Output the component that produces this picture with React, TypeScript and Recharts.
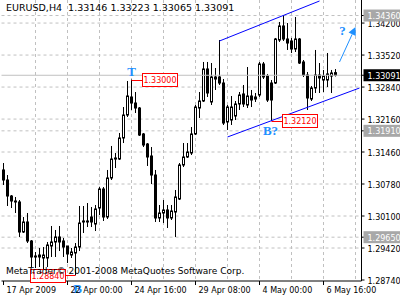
import React from "react"
import { ComposedChart, Bar, XAxis, YAxis, CartesianGrid, ReferenceLine, ReferenceDot } from "recharts"

// EURUSD H4 bars, 17 Apr 2009 08:00 onwards
const opens = [
  1.31078, 1.30865, 1.30525, 1.30419, 1.30398, 1.2976, 1.29973, 1.29569, 1.2925, 1.29271,
  1.29208, 1.29208, 1.29463, 1.29548, 1.29654, 1.29569, 1.29463, 1.29271, 1.29314, 1.29441,
  1.29994, 1.29973, 1.30079, 1.2993, 1.3027, 1.30674, 1.30079, 1.30908, 1.31333, 1.31311,
  1.31758, 1.32246, 1.32629, 1.32501, 1.32395, 1.31843, 1.3163, 1.31375, 1.30971, 1.30058,
  1.30164, 1.30228, 1.30058, 1.30185, 1.30461, 1.31184, 1.31354, 1.31439, 1.31843, 1.32395,
  1.32544, 1.33224, 1.32523, 1.33054, 1.33054, 1.32926, 1.32098, 1.3214, 1.32225, 1.3248,
  1.32693, 1.32459, 1.3265, 1.32586, 1.32671, 1.3333, 1.33075, 1.32926, 1.32926, 1.3384,
  1.34138, 1.33861, 1.33819, 1.33649, 1.33861, 1.33373, 1.33096, 1.32586, 1.3282, 1.33096,
  1.3299, 1.3299, 1.33075, 1.33146,
]
const highs = [
  1.31226, 1.30971, 1.30546, 1.30504, 1.3044, 1.30079, 1.30164, 1.2959, 1.29335, 1.2942,
  1.29441, 1.29548, 1.29888, 1.29803, 1.29888, 1.29633, 1.29463, 1.2942, 1.29526, 1.30313,
  1.30313, 1.30376, 1.30291, 1.30334, 1.30716, 1.30716, 1.31078, 1.31588, 1.31439, 1.31864,
  1.32416, 1.32969, 1.33, 1.32735, 1.32416, 1.31864, 1.31651, 1.31566, 1.31078, 1.30334,
  1.3044, 1.30334, 1.30334, 1.30653, 1.31226, 1.31651, 1.31651, 1.31991, 1.32459, 1.32735,
  1.33373, 1.33373, 1.33351, 1.33245, 1.3384, 1.33011, 1.32459, 1.3265, 1.32544, 1.32735,
  1.32884, 1.33266, 1.32778, 1.32714, 1.33373, 1.33373, 1.33118, 1.3299, 1.33883, 1.34223,
  1.3436, 1.34201, 1.33883, 1.34329, 1.33883, 1.33415, 1.3316, 1.32863, 1.33628, 1.33351,
  1.33203, 1.33564, 1.33203, 1.33223,
]
const lows = [
  1.30759, 1.30313, 1.3027, 1.30164, 1.29654, 1.29739, 1.29526, 1.29016, 1.28995, 1.29016,
  1.28953, 1.29016, 1.29229, 1.29229, 1.29356, 1.29229, 1.29101, 1.29208, 1.2884, 1.29356,
  1.29739, 1.29866, 1.29866, 1.29781, 1.30121, 1.29994, 1.30036, 1.30865, 1.3112, 1.3129,
  1.31651, 1.32204, 1.32353, 1.32289, 1.318, 1.31566, 1.31163, 1.3078, 1.29973, 1.29973,
  1.29951, 1.29845, 1.30015, 1.29654, 1.3044, 1.31141, 1.31333, 1.31396, 1.31821, 1.32183,
  1.32523, 1.32629, 1.32459, 1.32778, 1.32884, 1.32034, 1.31928, 1.32034, 1.3214, 1.32353,
  1.32416, 1.32395, 1.32416, 1.32523, 1.32629, 1.33011, 1.32523, 1.3212, 1.32905, 1.33798,
  1.33819, 1.33628, 1.33564, 1.33585, 1.3333, 1.33054, 1.32353, 1.32544, 1.32714, 1.32714,
  1.32735, 1.32841, 1.32714, 1.33065,
]
const closes = [
  1.30865, 1.30525, 1.30419, 1.30398, 1.2976, 1.29973, 1.29569, 1.29229, 1.29229, 1.29229,
  1.29271, 1.29484, 1.29548, 1.29654, 1.29548, 1.29441, 1.29293, 1.29335, 1.29441, 1.29951,
  1.29973, 1.29994, 1.29973, 1.30249, 1.30674, 1.30079, 1.30908, 1.31311, 1.31311, 1.31758,
  1.32246, 1.3265, 1.32501, 1.32395, 1.31821, 1.31609, 1.31354, 1.30971, 1.30058, 1.30164,
  1.30228, 1.30058, 1.30206, 1.30504, 1.31184, 1.31354, 1.3146, 1.31843, 1.32416, 1.32544,
  1.33224, 1.32714, 1.33054, 1.33011, 1.32926, 1.32076, 1.32416, 1.32416, 1.3248, 1.32671,
  1.3248, 1.3265, 1.32565, 1.32629, 1.3333, 1.33054, 1.32565, 1.32565, 1.33861, 1.34138,
  1.33861, 1.33776, 1.33649, 1.33861, 1.33351, 1.33096, 1.32608, 1.3282, 1.33096, 1.33033,
  1.33075, 1.33118, 1.33139, 1.33091,
]

const emptySlots = 6 // right-hand shift of the chart
const timeTickIdx = [0, 16, 32, 48, 64, 80]
const timeTickLabels = ["17 Apr 2009", "22 Apr 00:00", "24 Apr 16:00", "29 Apr 08:00", "4 May 00:00", "6 May 16:00"]
const gridIdx = [8, 16, 24, 32, 40, 48, 56, 64, 72, 80, 88]
const priceTicks = [1.2874, 1.2942, 1.301, 1.3078, 1.3146, 1.3216, 1.3284, 1.3352, 1.342]
const levelLines = [1.3436, 1.3191, 1.2965]
const lastPrice = 1.33091

const upperChannel = [{ x: 54, y: 1.33819 }, { x: 79, y: 1.34669 }]
const lowerChannel = [{ x: 56, y: 1.31779 }, { x: 89, y: 1.3282 }]
const forecastArrow = [{ x: 84, y: 1.33373 }, { x: 88, y: 1.34116 }]

const priceTags = [
  { i: 32, price: 1.33, text: "1.33000", side: "right" },
  { i: 67, price: 1.3212, text: "1.32120", side: "right" },
  { i: 18, price: 1.2884, text: "1.28840", side: "left" },
]
const waveMarks = [
  { i: 32, price: 1.33, text: "T", dx: 0, dy: -4 },
  { i: 18, price: 1.2884, text: "B", dx: 2, dy: 18 },
  { i: 67, price: 1.3212, text: "B?", dx: -1, dy: 14 },
  { i: 84, price: 1.34052, text: "?", dx: 3, dy: 5 },
]

const title = "EURUSD,H4  1.33146 1.33223 1.33065 1.33091"
const copyright = "MetaTrader\u00a9 2001-2008 MetaQuotes Software Corp."

const axisFont = "Tahoma, 'DejaVu Sans', sans-serif"
const gridColor = "#c0c0c0"
const markBlue = "#1e90ff"

const data = Array.from({ length: opens.length + emptySlots }, (_, i) =>
  i < opens.length ? { i, o: opens[i], h: highs[i], l: lows[i], c: closes[i] } : { i }
)

const Candle = (props: any) => {
  const { x, y, width, height, payload } = props
  if (payload == null || payload.h == null) return null
  const cx = Math.floor(x + width / 2) + 0.5
  const top = Math.min(y, y + height)
  const h = Math.abs(height)
  const toY = (v: number) => top + ((payload.h - v) / (payload.h - payload.l)) * h
  const bodyTop = toY(Math.max(payload.o, payload.c))
  const bodyBot = toY(Math.min(payload.o, payload.c))
  const up = payload.c >= payload.o
  return (
    <g>
      <line x1={cx} x2={cx} y1={top} y2={bodyTop} stroke="#000" />
      <line x1={cx} x2={cx} y1={bodyBot} y2={top + h} stroke="#000" />
      <rect x={cx - 1} y={bodyTop} width={2} height={Math.max(bodyBot - bodyTop, 0.5)} fill={up ? "#fff" : "#000"} stroke="#000" />
    </g>
  )
}

const PriceTick = (props: any) => {
  const { x, y, payload } = props
  const v = payload.value
  const bg = v === lastPrice ? "#000" : levelLines.includes(v) ? "#a8a8a8" : null
  return (
    <g>
      {bg && <rect x={x - 4} y={y - 6} width={42} height={12} fill={bg} />}
      <text x={x} y={y + 3.5} fontSize={8} fontFamily={axisFont} fill={bg ? "#fff" : "#000"}>
        {v.toFixed(5)}
      </text>
    </g>
  )
}

const TimeTick = (props: any) => {
  const { x, y, payload } = props
  const k = timeTickIdx.indexOf(payload.value)
  if (k < 0) return null
  return (
    <text x={x + 3} y={y + 6} fontSize={8} fontFamily={axisFont} fill="#000">
      {timeTickLabels[k]}
    </text>
  )
}

const Arrow = (props: any) => {
  const { x1, y1, x2, y2 } = props
  const a = Math.atan2(y2 - y1, x2 - x1)
  const len = 8
  const w = 4
  const bx = x2 - len * Math.cos(a)
  const by = y2 - len * Math.sin(a)
  const pts = [
    [x2, y2],
    [bx + w * Math.sin(a), by - w * Math.cos(a)],
    [bx - w * Math.sin(a), by + w * Math.cos(a)],
  ]
  return (
    <g>
      <line x1={x1} y1={y1} x2={bx} y2={by} stroke={markBlue} strokeWidth={1} />
      <polygon points={pts.map((p) => p.join(",")).join(" ")} fill={markBlue} />
    </g>
  )
}

const makeTag = (text: string, side: string) => (props: any) => {
  const { cx, cy } = props
  const w = 35
  const h = 13
  const bx = side === "right" ? cx + 10.5 : cx - 10.5 - w
  return (
    <g>
      <line x1={cx} y1={Math.round(cy) + 0.5} x2={side === "right" ? bx : bx + w} y2={Math.round(cy) + 0.5} stroke="#ff0000" />
      <rect x={Math.round(bx) + 0.5} y={Math.round(cy - 6.5) + 0.5} width={w} height={h} fill="#fff" stroke="#ff0000" />
      <text x={bx + w / 2 + 0.5} y={cy + 3.5} textAnchor="middle" fontSize={8} fontFamily={axisFont} fill="#ff0000">
        {text}
      </text>
    </g>
  )
}

const makeMark = (text: string, dx: number, dy: number) => (props: any) => {
  const { cx, cy } = props
  return (
    <text x={cx + dx} y={cy + dy} textAnchor="middle" fontSize={13} fontWeight="bold" fontFamily="'Liberation Serif', serif" fill={markBlue}>
      {text}
    </text>
  )
}

export default function App() {
  return (
    <div style={{ position: "absolute", left: 0, top: 0, width: 400, height: 300, background: "#fff" }}>
      <ComposedChart width={400} height={300} data={data} margin={{ top: 0, right: 0, bottom: 0, left: 1.5 }}>
        <CartesianGrid
          stroke={gridColor}
          strokeDasharray="3 3"
          horizontalValues={[...priceTicks.slice(1), ...levelLines]}
          verticalValues={gridIdx}
        />
        <XAxis
          dataKey="i"
          type="category"
          height={19}
          ticks={timeTickIdx}
          interval={0}
          tickSize={4}
          tickLine={{ stroke: "#000" }}
          axisLine={{ stroke: "#000" }}
          tick={<TimeTick />}
        />
        <YAxis
          yAxisId={0}
          orientation="right"
          type="number"
          width={38.5}
          domain={[1.28719, 1.3469]}
          allowDataOverflow
          ticks={[...priceTicks, ...levelLines, lastPrice]}
          interval={0}
          tickSize={3}
          tickMargin={3}
          tickLine={{ stroke: "#000" }}
          axisLine={{ stroke: "#000" }}
          tick={<PriceTick />}
        />
        <YAxis yAxisId="frame" orientation="left" width={0} tick={false} tickLine={false} axisLine={{ stroke: "#000" }} domain={[0, 1]} />
        <ReferenceLine y={lastPrice} stroke={gridColor} />
        <Bar
          dataKey={(d: any) => (d.h != null ? [d.l, d.h] : null)}
          shape={<Candle />}
          isAnimationActive={false}
        />
        <ReferenceLine segment={upperChannel} stroke="#0000ff" ifOverflow="visible" />
        <ReferenceLine segment={lowerChannel} stroke="#0000ff" ifOverflow="visible" />
        <ReferenceLine segment={forecastArrow} ifOverflow="visible" shape={(p: any) => <Arrow {...p} />} />
        {priceTags.map((t) => (
          <ReferenceDot key={t.text} x={t.i} y={t.price} ifOverflow="visible" shape={makeTag(t.text, t.side)} />
        ))}
        {waveMarks.map((m) => (
          <ReferenceDot key={m.text} x={m.i} y={m.price} ifOverflow="visible" shape={makeMark(m.text, m.dx, m.dy)} />
        ))}
      </ComposedChart>
      <div style={{ position: "absolute", left: 6, top: 2, fontFamily: axisFont, fontSize: 9.5, whiteSpace: "pre", color: "#000" }}>
        {title}
      </div>
      <div style={{ position: "absolute", left: 6, top: 266, fontFamily: axisFont, fontSize: 9, whiteSpace: "pre", color: "#000" }}>
        {copyright}
      </div>
    </div>
  )
}
